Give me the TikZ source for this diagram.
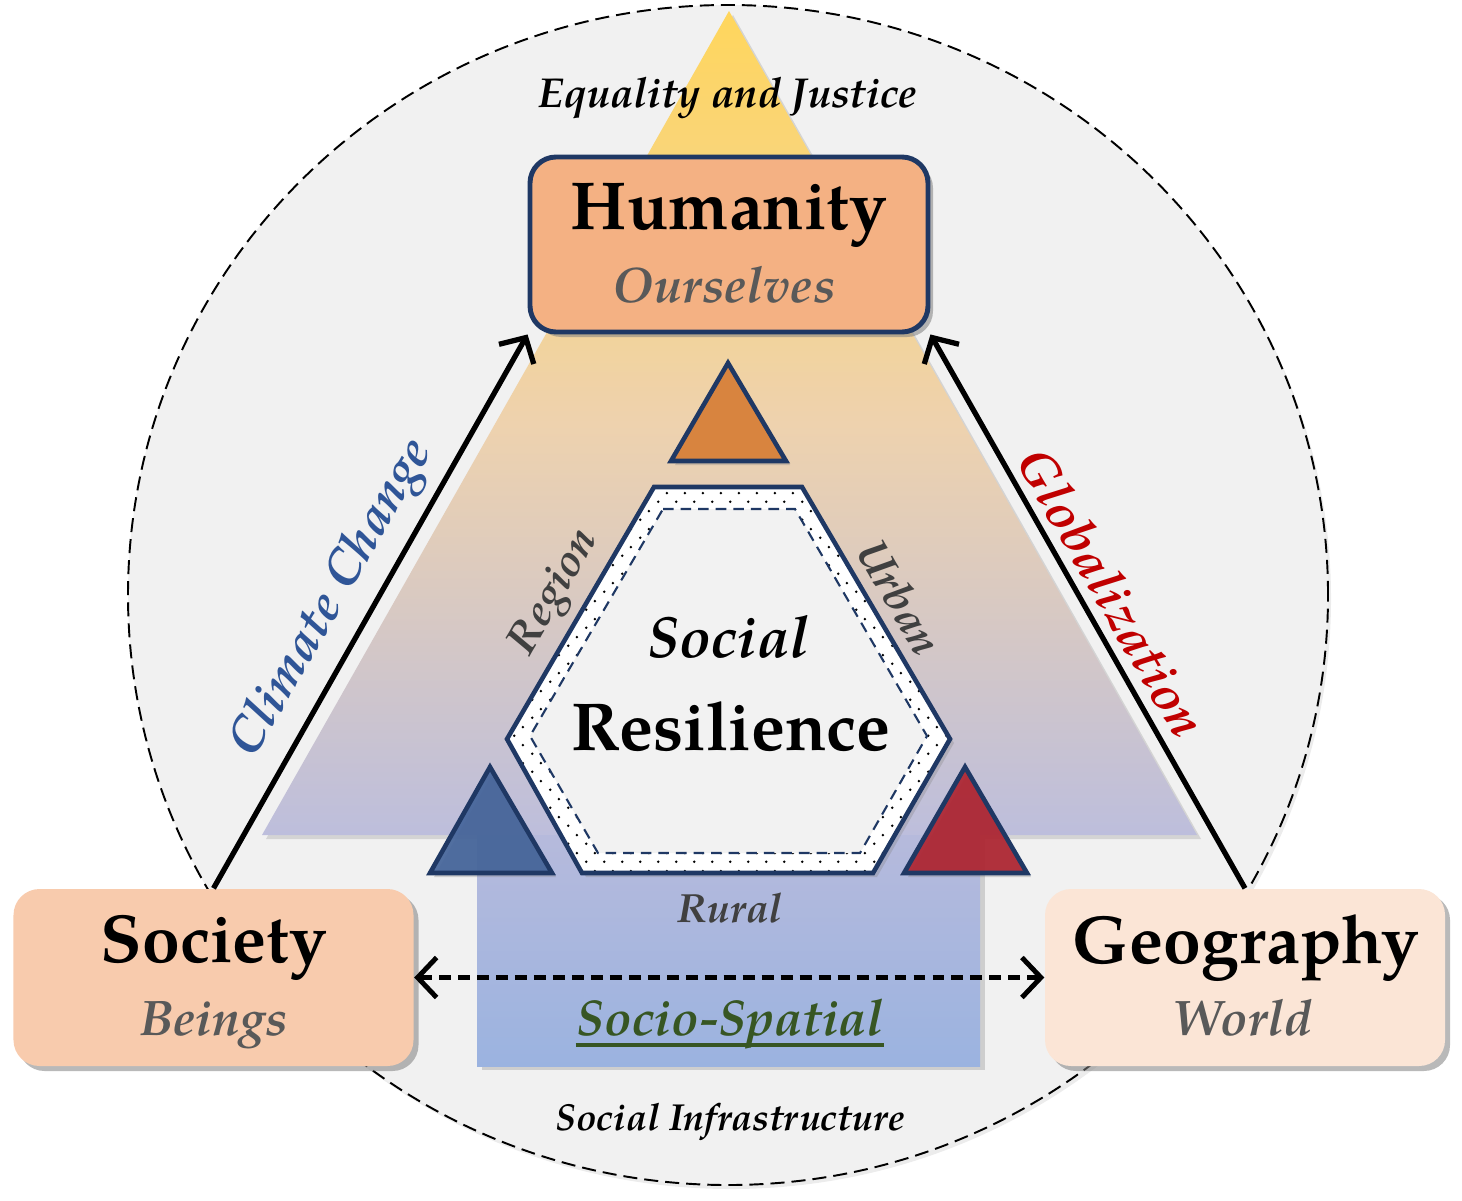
\documentclass[tikz,border=0pt]{standalone}
\usepackage{fontspec}
\setmainfont{TeX Gyre Pagella}
\usetikzlibrary{shapes,arrows.meta,positioning,calc,shadows,patterns,patterns.meta}

\definecolor{navy}{HTML}{1F3864}
\definecolor{bgc}{HTML}{F1F1F1}
\definecolor{hexin}{HTML}{F2F2F2}
\definecolor{humfill}{HTML}{F4B183}
\definecolor{socfill}{HTML}{F8CBAD}
\definecolor{geofill}{HTML}{FBE5D6}
\definecolor{subgray}{HTML}{595959}
\definecolor{labgray}{HTML}{404040}
\definecolor{climblue}{HTML}{2F5597}
\definecolor{globred}{HTML}{C00000}
\definecolor{spgreen}{HTML}{375623}
\definecolor{gold}{HTML}{FFD65C}
\definecolor{peach}{HTML}{EED2AE}
\definecolor{lav}{HTML}{BDBEDC}
\definecolor{rtop}{HTML}{B6BADC}
\definecolor{rbot}{HTML}{9BB3E0}
\definecolor{triorange}{HTML}{D8843F}
\definecolor{triblue}{HTML}{44649A}
\definecolor{trired}{HTML}{AE2430}

% sparse staggered dots for the hexagon ring
\tikzdeclarepattern{
  name=sparsedots,
  type=uncolored,
  bottom left={(0pt,0pt)},
  top right={(5pt,5pt)},
  tile size={(5pt,5pt)},
  code={
    \pgfpathcircle{\pgfpoint{1.25pt}{1.25pt}}{0.4pt}
    \pgfpathcircle{\pgfpoint{3.75pt}{3.75pt}}{0.4pt}
    \pgfusepath{fill}
  }
}

\begin{document}
\begin{tikzpicture}[
        box/.style={rectangle, rounded corners=2.6mm, minimum width=4cm, minimum height=1.77cm, drop shadow={shadow xshift=0.5mm, shadow yshift=-0.5mm, opacity=0.55}},
        headtxt/.style={anchor=base, inner sep=0pt, font=\fontsize{19.3}{21}\selectfont\bfseries},
        subtxt/.style={anchor=base, inner sep=0pt, text=subgray, font=\fontsize{14.2}{16}\selectfont\bfseries\itshape},
        captxt/.style={inner sep=0pt, font=\bfseries\itshape},
        tri/.style={draw=navy, line width=1.3pt, drop shadow={shadow xshift=0.4mm, shadow yshift=-0.4mm, opacity=0.3}},
        arrowline/.style={line width=1.5pt, -{Straight Barb[length=1.9mm,width=4mm]}}]

        \useasboundingbox (0,0) rectangle (14.62,12);

        % Background circle
        \draw[line width=0.55pt, dash pattern=on 4pt off 2pt, fill=bgc, drop shadow={shadow xshift=0.3mm, shadow yshift=-0.4mm, opacity=0.15}] (7.28,6.05) ellipse [x radius=6.0cm, y radius=5.9cm];

        % Pyramid and base band
        \path[top color=gold, bottom color=lav, middle color=peach, drop shadow={shadow xshift=0.4mm, shadow yshift=-0.4mm, opacity=0.25}] (7.29,11.89) -- (11.97,3.65) -- (2.62,3.65) -- cycle;
        \path[top color=rtop, bottom color=rbot, drop shadow={shadow xshift=0.5mm, shadow yshift=-0.4mm, opacity=0.3}] (4.77,1.34) rectangle (9.80,3.65);

        % Corner boxes
        \node[box, fill=humfill, draw=navy, line width=1.4pt, minimum width=3.98cm, minimum height=1.75cm] (hum) at (7.29,9.555) {};
        \node[box, fill=socfill] (soc) at (2.135,2.225) {};
        \node[box, fill=geofill] (geo) at (12.45,2.225) {};

        \draw[arrowline] (soc.north) -- (hum.south west);
        \draw[arrowline] (geo.north) -- (hum.south east);
        \draw[line width=1.4pt, dash pattern=on 3.4pt off 2pt, {Straight Barb[length=1.9mm,width=4mm]}-{Straight Barb[length=1.9mm,width=4mm]}] (soc.east) -- (geo.west);

        % Small triangles
        \draw[tri, fill=triorange] (7.28,8.37) -- (7.86,7.39) -- (6.71,7.39) -- cycle;
        \draw[tri, fill=triblue, fill opacity=0.92] (4.90,4.33) -- (5.52,3.27) -- (4.30,3.27) -- cycle;
        \draw[tri, fill=trired, fill opacity=0.92] (9.65,4.33) -- (10.27,3.27) -- (9.04,3.27) -- cycle;

        % Hexagon
        \draw[drop shadow={shadow xshift=0.4mm, shadow yshift=-0.4mm, opacity=0.3}, preaction={fill=white}, pattern=sparsedots, draw=navy, line width=1.3pt] (6.54,7.13) -- (8.02,7.13) -- (9.50,4.61) -- (8.73,3.27) -- (5.82,3.27) -- (5.07,4.61) -- cycle;
        \draw[navy, line width=0.6pt, dash pattern=on 3pt off 2pt, fill=hexin] (6.63,6.91) -- (7.95,6.91) -- (9.27,4.64) -- (8.60,3.47) -- (5.98,3.47) -- (5.30,4.64) -- cycle;

        % Texts
        \node[captxt, anchor=base, font=\fontsize{11.9}{14}\selectfont\bfseries\itshape] (eq) at (7.28,10.92) {Equality and Justice};
        \node[headtxt] (humt) at (7.29,9.70) {Humanity};
        \node[subtxt] (hums) at (7.24,8.98) {Ourselves};
        \node[headtxt] (soct) at (2.14,2.38) {Society};
        \node[subtxt] (socs) at (2.14,1.65) {Beings};
        \node[headtxt] (geot) at (12.46,2.37) {Geography};
        \node[subtxt] (geos) at (12.42,1.65) {World};

        \node[captxt, anchor=base, font=\fontsize{16.5}{18}\selectfont\bfseries\itshape] (soci) at (7.28,5.43) {Social};
        \node[headtxt] (resi) at (7.31,4.50) {Resilience};
        \node[captxt, text=labgray, rotate=60, font=\fontsize{12.5}{14}\selectfont\bfseries\itshape] (reg) at (5.56,6.07) {Region};
        \node[captxt, text=labgray, rotate=-60, font=\fontsize{12.5}{14}\selectfont\bfseries\itshape] (urb) at (9.00,6.03) {Urban};
        \node[captxt, anchor=base, text=labgray, font=\fontsize{11.6}{13}\selectfont\bfseries\itshape] (rur) at (7.30,2.78) {Rural};

        \node[captxt, text=climblue, rotate=60, font=\fontsize{14.3}{16}\selectfont\bfseries\itshape] (clim) at (3.33,6.01) {Climate Change};
        \node[captxt, text=globred, rotate=-60, font=\fontsize{14.6}{16}\selectfont\bfseries\itshape] (glob) at (11.12,6.08) {Globalization};

        \node[captxt, anchor=base, text=spgreen, font=\fontsize{14.3}{16}\selectfont\bfseries\itshape] (sp) at (7.30,1.65) {Socio-Spatial};
        \draw[spgreen, line width=1.1pt] ($(sp.base west)+(0,-0.1)$) -- ($(sp.base east)+(0,-0.1)$);
        \node[captxt, anchor=base, font=\fontsize{10.7}{12}\selectfont\bfseries\itshape] (infra) at (7.30,0.70) {Social Infrastructure};

    \end{tikzpicture}
\end{document}
